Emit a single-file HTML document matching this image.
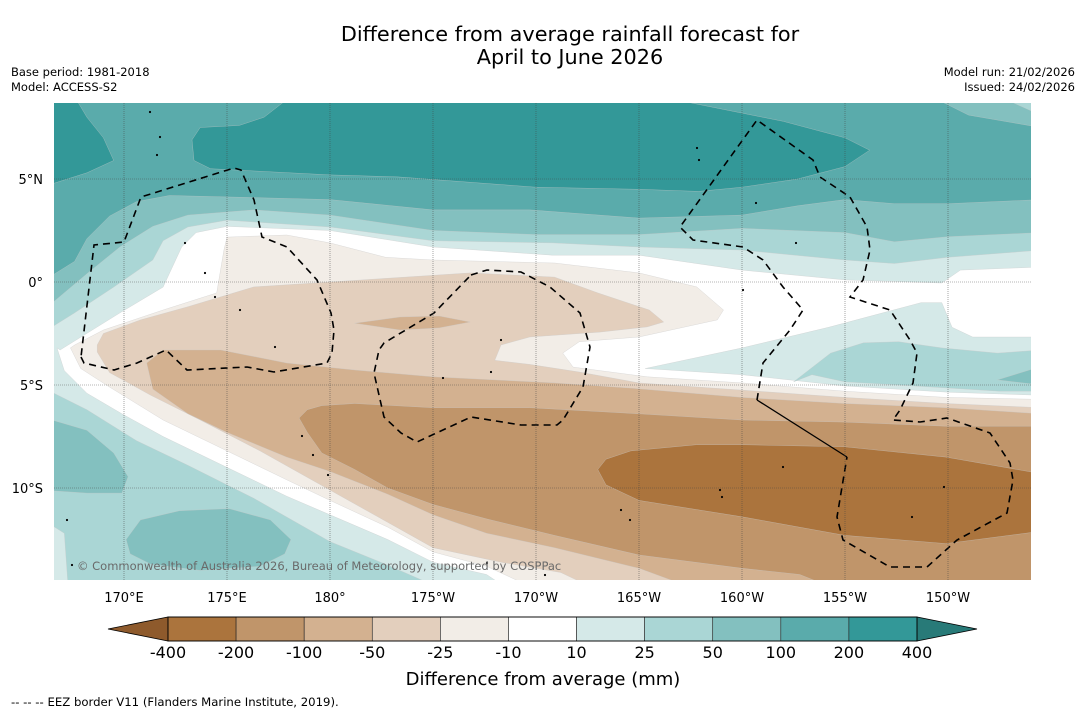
<!DOCTYPE html>
<html><head><meta charset="utf-8">
<style>
html,body{margin:0;padding:0;background:#fff;}
body{width:1085px;height:713px;overflow:hidden;font-family:"Liberation Sans","DejaVu Sans",sans-serif;}
svg text{font-family:"DejaVu Sans","Liberation Sans",sans-serif;}
</style></head>
<body>
<svg id="chart" width="1085" height="713" viewBox="0 0 1085 713" xmlns="http://www.w3.org/2000/svg">
  <text x="570" y="41" text-anchor="middle" font-size="20.8">Difference from average rainfall forecast for</text>
  <text x="570" y="64" text-anchor="middle" font-size="20.8">April to June 2026</text>
  <text x="11" y="76" font-size="11.5">Base period: 1981-2018</text>
  <text x="11" y="91" font-size="11.5">Model: ACCESS-S2</text>
  <text x="1075" y="76" font-size="11.5" text-anchor="end">Model run: 21/02/2026</text>
  <text x="1075" y="91" font-size="11.5" text-anchor="end">Issued: 24/02/2026</text>
  <defs><clipPath id="mapclip"><rect x="54" y="103" width="977" height="477"/></clipPath></defs>
  <g id="map" clip-path="url(#mapclip)"></g>
  <g id="axes"></g>
  <g id="cbar"></g>
  <text x="543" y="685" text-anchor="middle" font-size="18">Difference from average (mm)</text>
  <text x="11" y="706" font-size="11.7">--  --  -- EEZ border V11 (Flanders Marine Institute, 2019).</text>
</svg>
<script>
// ---- data ----
const lonTicks = [170,175,180,185,190,195,200,205,210];
const lonLabels = ["170°E","175°E","180°","175°W","170°W","165°W","160°W","155°W","150°W"];
const latTicks = [5,0,-5,-10];
const latLabels = ["5°N","0°","5°S","10°S"];
const levelBounds = [-400,-200,-100,-50,-25,-10,10,25,50,100,200,400];
const levelColors = ["#ab743d","#c0956a","#d3b190","#e3cfbd","#f2ede7","#ffffff","#d5e9e8","#aad6d5","#83c0bf","#5aabab","#339898"];
const extendLow = "#8e5a2c", extendHigh = "#287a78";

// contour polygons [lon(0-360E), lat]
const base100 = [[166,9],[214.5,9],[214.5,-15],[166,-15]];
const top400West = [[166,4.6],[168.2,5.3],[169.5,5.9],[169.0,7.0],[168.2,8.0],[167.6,9],[166,9]];
const top400Main = [[177.7,9],[177.7,8.7],[176.8,8.0],[175.6,7.6],[173.7,7.5],[173.3,6.9],[173.4,5.9],[174.2,5.5],[180,5.2],[183.3,5.1],[190,4.6],[195,4.5],[197.9,4.4],[200,4.6],[202.7,5.0],[205,5.6],[206.2,6.4],[205,7.0],[202,7.8],[200,8.2],[196,9]];
const ne50 = [[209.2,9],[211,8.1],[214.5,7.5],[214.5,9]];
const ne25 = [[212.5,9],[214.5,8.1],[214.5,9]];
const north50 = [[166,0],[167.6,1],[168.2,2.1],[169.3,3.2],[170.6,3.9],[172.2,4.2],[176.1,4.1],[180,4.0],[185,3.5],[189.7,3.5],[195,3.1],[200,3.25],[202.7,3.7],[205,4.0],[207.4,3.8],[210,3.8],[214.5,4.0],[214.5,-15],[166,-15]];
const north25 = [[166,-1.45],[168.2,0.4],[169.8,1.7],[171.4,2.7],[173.1,3.25],[176.3,3.5],[180,3.25],[185,2.5],[190,2.3],[195,2.3],[200,2.6],[205,2.4],[207.4,1.95],[210,2.2],[214.5,2.4],[214.5,-15],[166,-15]];
const north10 = [[166,-2.5],[167.6,-1.5],[169.5,-0.25],[171.4,1.07],[171.9,2.0],[173.1,2.67],[175,3.0],[180,2.67],[185,2.0],[190.8,1.9],[195,1.7],[200,1.55],[205,1.07],[207.4,0.9],[210,1.2],[214.5,1.55],[214.5,-15],[166,-15]];
const sw25 = [[166,-5.1],[168.2,-6.2],[170.6,-7.7],[173.1,-8.9],[176.3,-10.5],[180,-12.6],[182.7,-13.7],[184.3,-14.4],[185.6,-15],[166,-15]];
const sw10patch = [[166,-11.5],[167.1,-12.2],[167.3,-15],[166,-15]];
const swBlobA = [[166,-6.55],[168.2,-7.2],[169.5,-8.3],[170.2,-9.45],[169.9,-10.25],[168.2,-10.25],[166,-10.1]];
const swBlobB = [[170.1,-12.5],[170.8,-11.55],[172.7,-11.1],[175.1,-11.0],[177.1,-11.55],[178.1,-12.5],[177.8,-13.2],[176.6,-13.8],[173.7,-14.0],[171.3,-13.7],[170.3,-13.2]];
const whiteZone = [[166.9,-3.3],[169.8,-1.5],[171.9,-0.25],[172.8,1.7],[173.5,2.4],[175,2.7],[180,2.5],[185,1.7],[190.8,1.3],[195,1.3],[200,0.58],[205,0.1],[209.7,-0.05],[210.6,0.58],[214.5,0.73],[214.5,-15],[188.8,-15],[187.6,-14.2],[185,-13.6],[182.8,-12.5],[180,-11.3],[177.9,-10.4],[175,-9.0],[171.9,-7.5],[169.9,-6.4],[168.2,-5.4],[167.1,-4.3],[166.75,-3.2]];
const east10 = [[195.3,-4.2],[200,-3.2],[204.2,-2.2],[208.7,-1.0],[209.7,-1.0],[210.2,-2.2],[211.2,-2.67],[214.5,-2.67],[214.5,-5.5],[210,-5.35],[205,-5.05],[200,-4.5],[195.3,-4.2]];
const east25 = [[202.5,-4.85],[204.3,-3.45],[205.9,-2.95],[207.6,-2.9],[209.7,-3.2],[212.4,-3.45],[214.5,-3.3],[214.5,-5.3],[212.5,-5.3],[207.6,-5.0],[205,-4.85],[203.4,-4.5]];
const east50 = [[212.4,-4.75],[214.5,-4.1],[214.5,-5.0]];
const neg10 = [[167.6,-3.06],[169.0,-2.33],[171.9,-1.36],[174.5,-0.53],[174.85,1.55],[175,2.18],[177.9,2.28],[180,1.9],[182.7,1.2],[185,1.07],[190.9,0.92],[195,0.44],[197.8,-0.24],[199.1,-1.36],[198.8,-1.84],[195,-2.67],[192.1,-2.9],[191.3,-3.45],[191.8,-4.13],[195.4,-4.6],[200,-4.9],[205,-5.3],[209.9,-5.6],[214.5,-5.7],[214.5,-15],[190.2,-15],[187.6,-13.8],[185,-13.1],[182.8,-11.9],[180,-10.6],[177.9,-9.6],[175,-8.2],[171.9,-6.7],[169.3,-5.1],[167.9,-4.2],[167.4,-3.2]];
const neg25 = [[168.7,-3.06],[169.0,-2.5],[170.8,-1.84],[173.1,-1.2],[176.3,-0.24],[180,0],[186.8,0.44],[190.9,0.24],[193,-0.53],[195.5,-1.36],[196.2,-1.94],[195.4,-2.18],[193.1,-2.43],[189.7,-2.67],[188.3,-3.06],[188,-3.8],[189.7,-4.0],[192.1,-4.37],[195,-4.9],[200,-5.25],[205,-5.6],[209.9,-5.9],[214.5,-6.1],[214.5,-15],[193.1,-15],[191.2,-14.1],[188.3,-13.6],[185,-12.9],[183.4,-12.0],[180,-10.1],[176.6,-8.2],[173.7,-6.7],[171.3,-5.5],[169.3,-4.4],[168.7,-3.4]];
const neg50blob = [[181.2,-2.0],[183.4,-1.7],[185.3,-1.65],[186.8,-1.94],[185.3,-2.23],[183.4,-2.33]];
const neg50 = [[171.1,-3.93],[171.9,-3.3],[174.7,-3.3],[177.9,-3.93],[181.2,-4.27],[185,-4.6],[190.9,-4.9],[194.6,-5.15],[200,-5.6],[205,-5.9],[209.9,-6.1],[214.5,-6.4],[214.5,-15],[198,-15],[195,-13.9],[190.9,-12.9],[187.6,-12.2],[185,-11.3],[182.8,-10.3],[180,-9.2],[177.9,-8.5],[175,-7.3],[173.1,-6.4],[171.4,-5.2]];
const neg100 = [[178.5,-6.6],[178.9,-6.2],[179.6,-6.0],[181.2,-5.9],[185,-6.1],[189.7,-6.1],[195,-6.4],[200,-6.7],[205,-6.8],[209.9,-7.0],[214.5,-7.0],[214.5,-15],[204.8,-15],[202.8,-14.2],[200,-13.9],[195,-13.25],[190.9,-12.3],[187.6,-11.5],[185,-10.8],[182.8,-10.0],[181.2,-9.1],[179.6,-8.3],[178.9,-7.3]];
const neg200 = [[193,-9.1],[193.4,-8.6],[194.6,-8.2],[197.8,-7.9],[200,-7.9],[205,-8.0],[209.9,-8.5],[214.5,-9.3],[214.5,-12.1],[209.9,-12.7],[205,-12.3],[200,-11.4],[195,-10.6],[193.4,-9.85]];

const layers = [
  ["band-100-200",base100,9],["band-200-400-west",top400West,10],["band-200-400",top400Main,10],
  ["band-50-100",north50,8],["band-50-100-ne",ne50,8],["band-25-50-ne",ne25,7],
  ["band-25-50",north25,7],["band-10-25",north10,6],["band-25-50-sw",sw25,7],["band-10-25-sw",sw10patch,6],
  ["band-50-100-sw-a",swBlobA,8],["band-50-100-sw-b",swBlobB,8],["band-neutral",whiteZone,5],
  ["band-10-25-east",east10,6],["band-25-50-east",east25,7],["band-50-100-east",east50,8],
  ["band-minus10-25",neg10,4],["band-minus25-50",neg25,3],["band-minus50-100-blob",neg50blob,2],
  ["band-minus50-100",neg50,2],["band-minus100-200",neg100,1],["band-minus200-400",neg200,0]
];

// ---- projection ----
const X = lon => 124 + (lon - 170) * 20.6;
const Y = lat => 282 - lat * 20.6;
const NS = "http://www.w3.org/2000/svg";
function mk(tag, attrs, parent){const e=document.createElementNS(NS,tag);for(const k in attrs)e.setAttribute(k,attrs[k]);parent.appendChild(e);return e;}
const map = document.getElementById('map');
const pts = arr => arr.map(p => X(p[0]).toFixed(1)+','+Y(p[1]).toFixed(1)).join(' ');
layers.forEach(L => {
  const e = mk('polygon',{points:pts(L[1]),fill:levelColors[L[2]],stroke:'#c8c8c8','stroke-width':0.5,'stroke-opacity':0.6,'stroke-linejoin':'round'},map);
  
  
});
const eezPaths = [
 "M81,357 L84,363 L114,370 L137,363 L166,350 L187,370 L247,367 L274,372 L327,363 L332,353 L334,330 L331,313 L317,280 L287,247 L262,237 L254,200 L241,170 L234,168 L141,197 L124,242 L94,245 Z",
 "M471,275 L487,270 L521,272 L550,287 L580,313 L590,347 L583,387 L563,420 L557,425 L521,425 L471,417 L417,442 L401,433 L384,417 L374,373 L379,350 L384,343 L434,313 Z",
 "M757,400 L763,363 L790,330 L803,310 L783,287 L763,260 L743,247 L693,240 L680,227 L757,120 L813,160 L820,177 L850,197 L867,227 L870,250 L863,280 L850,297 L890,310 L910,340 L917,353 L913,383 L900,410 L893,420 L920,422 L947,418 L990,433 L1010,463 L1013,480 L1007,513 L957,540 L927,567 L890,567 L843,540 L837,517 L847,457"
];
eezPaths.forEach((d,i)=>{
  const e = mk('path',{d:d,fill:'none',stroke:'#000','stroke-width':1.6,'stroke-dasharray':'7,5'},map);
  
  
});
const solid = mk('path',{d:"M757,400 L847,457",fill:'none',stroke:'#000','stroke-width':1.3},map);


const islands = [[150,112],[160,137],[157,155],[185,243],[205,273],[215,297],[240,310],[275,347],[302,436],[313,455],[328,475],[491,372],[501,340],[443,378],[697,148],[699,160],[756,203],[796,243],[743,290],[720,490],[722,497],[783,467],[912,517],[944,487],[67,520],[72,565],[487,563],[545,575],[621,510],[630,520]];
islands.forEach(p=>{
  const e = mk('circle',{cx:p[0],cy:p[1],r:1.1,fill:'#000'},map);
  
  
});
lonTicks.forEach(l=>{
  const e = mk('line',{x1:X(l),x2:X(l),y1:103,y2:580,stroke:'#444','stroke-width':0.6,'stroke-dasharray':'1,1','stroke-opacity':0.8},map);
  
  
});
latTicks.forEach(l=>{
  const e = mk('line',{x1:54,x2:1031,y1:Y(l),y2:Y(l),stroke:'#444','stroke-width':0.6,'stroke-dasharray':'1,1','stroke-opacity':0.8},map);
  
  
});
const cr = mk('text',{x:77,y:570,'font-size':11.5,fill:'#6a6a6a'},map);
cr.textContent = "© Commonwealth of Australia 2026, Bureau of Meteorology, supported by COSPPac";



const axes = document.getElementById('axes');
lonTicks.forEach((l,i)=>{
  const t = mk('text',{x:X(l),y:602,'font-size':13,'text-anchor':'middle'},axes);
  t.textContent = lonLabels[i];
  
  
});
latTicks.forEach((l,i)=>{
  const t = mk('text',{x:43,y:Y(l)+5,'font-size':13,'text-anchor':'end'},axes);
  t.textContent = latLabels[i];
  
  
});

const cb = document.getElementById('cbar');
const cbX0 = 168, cbX1 = 917, cbY = 617, cbH = 24;
const segW = (cbX1 - cbX0) / levelColors.length;
const lt = mk('polygon',{points:`108,${cbY+cbH/2} ${cbX0},${cbY} ${cbX0},${cbY+cbH}`,fill:extendLow,stroke:'#000','stroke-width':0.8},cb);


const rt = mk('polygon',{points:`977,${cbY+cbH/2} ${cbX1},${cbY} ${cbX1},${cbY+cbH}`,fill:extendHigh,stroke:'#000','stroke-width':0.8},cb);


levelColors.forEach((c,i)=>{
  const r = mk('rect',{x:cbX0+i*segW,y:cbY,width:segW,height:cbH,fill:c,stroke:'#222','stroke-width':0.6},cb);
  
  
});
const fr = mk('rect',{x:cbX0,y:cbY,width:cbX1-cbX0,height:cbH,fill:'none',stroke:'#000','stroke-width':0.9},cb);


levelBounds.forEach((v,i)=>{
  const t = mk('text',{x:cbX0+i*segW,y:658,'font-size':16,'text-anchor':'middle'},cb);
  t.textContent = String(v);
  
  
});
</script>
</body></html>
